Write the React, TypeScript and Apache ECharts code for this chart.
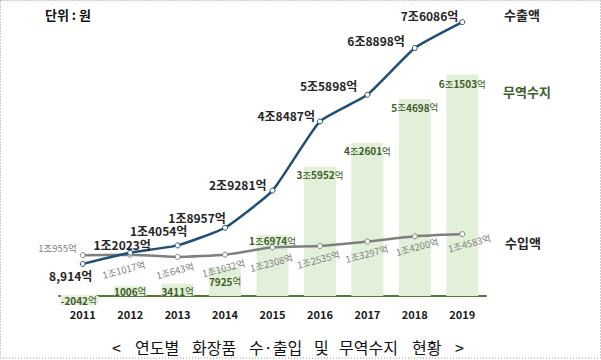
import React, { useEffect, useRef } from "react";
import * as echarts from "echarts";

// values in 억원
const years = ["2011", "2012", "2013", "2014", "2015", "2016", "2017", "2018", "2019"];
const exportValues = [8914, 12023, 14054, 18957, 29281, 48487, 55898, 68898, 76086];
const importValues = [10955, 11017, 10643, 11032, 12308, 12535, 13297, 14200, 14583];
const balanceValues = [-2042, 1006, 3411, 7925, 16974, 35952, 42601, 54698, 61503];

const captionWords = ["<", "연도별", "화장품", "수·출입", "및", "무역수지", "현황", ">"];
const captionX = [112, 135, 192, 249, 314, 339, 412, 455];

const FONT = "'Noto Sans CJK KR', 'Noto Sans', sans-serif";

function fmt(v: number, comma = false): string {
  if (Math.abs(v) >= 10000) {
    return `${Math.floor(v / 10000)}조${v % 10000}억`;
  }
  return comma ? `${v.toLocaleString("en-US")}억` : `${v}억`;
}

function fmtRich(v: number): string {
  if (Math.abs(v) >= 10000) {
    return `{b|${Math.floor(v / 10000)}}{n|조}{b|${v % 10000}}{n|억}`;
  }
  return `{b|${v}}{n|억}`;
}

// label layout (positions only)
const exportLabelLayout: any[] = [
  { position: "bottom", offset: [-12, 0], distance: 3 },
  { position: "top", offset: [-8, 1], distance: 0 },
  { position: "top", offset: [-19, -2], distance: 4 },
  { position: "top", offset: [-28, 0], distance: 1 },
  { position: "left", offset: [0, -6], distance: 3 },
  { position: "left", offset: [0, -6], distance: 2 },
  { position: "left", offset: [0, -9], distance: 7 },
  { position: "left", offset: [0, -7], distance: 7 },
  { position: "left", offset: [0, -7], distance: 1 },
];

const importLabelLayout: any[] = [
  { position: "left", offset: [0, -7], distance: 3, rotate: 0 },
  { position: "bottom", offset: [-8, 0], distance: 5, rotate: 15 },
  { position: "bottom", offset: [-4, 0], distance: 5, rotate: 15 },
  { position: "bottom", offset: [-3, 0], distance: 5, rotate: 15 },
  { position: "bottom", offset: [-3, 2], distance: 5, rotate: 15 },
  { position: "bottom", offset: [-3, 0], distance: 5, rotate: 15 },
  { position: "bottom", offset: [-2, 0], distance: 4, rotate: 15 },
  { position: "bottom", offset: [1, 0], distance: 3, rotate: 15 },
  { position: "bottom", offset: [6, 0], distance: 3, rotate: 15 },
];

const BAR_COLOR = "#e2efd9";

const balanceLabelLayout: any[] = [
  { position: "insideTop", offset: [-4, -1], distance: 0, backgroundColor: BAR_COLOR },
  { position: "insideBottom", offset: [0, 0], distance: 0, backgroundColor: BAR_COLOR },
  { position: "insideBottom", offset: [0, 0], distance: 0, backgroundColor: BAR_COLOR },
  { position: "insideTop", offset: [0, 0], distance: 9 },
  { position: "insideTop", offset: [0, -2], distance: 3 },
  { position: "insideTop", offset: [0, 0], distance: 3 },
  { position: "insideTop", offset: [0, 0], distance: 3 },
  { position: "insideTop", offset: [0, 0], distance: 3 },
  { position: "insideTop", offset: [0, 0], distance: 4 },
];

export default function App() {
  const ref = useRef<HTMLDivElement>(null);

  useEffect(() => {
    if (!ref.current) return;
    const chart = echarts.init(ref.current, undefined, { renderer: "svg" });

    const option: any = {
      animation: false,
      backgroundColor: "#ffffff",
      textStyle: { fontFamily: FONT },
      grid: { left: 59, right: 115, top: 8, bottom: 46, containLabel: false },
      xAxis: {
        type: "category",
        data: years,
        boundaryGap: true,
        axisLine: { show: true, onZero: true, lineStyle: { color: "#4f7a2f", width: 2 } },
        axisTick: { show: false },
        axisLabel: {
          margin: -6,
          color: "#1a1a1a",
          fontWeight: "bold",
          fontSize: 11,
          fontFamily: FONT,
        },
        splitLine: { show: false },
      },
      yAxis: [
        { type: "value", min: -5000, max: 80000, show: false, splitLine: { show: false } },
        { type: "value", min: 800, max: 53600, show: false, splitLine: { show: false } },
      ],
      series: [
        {
          name: "무역수지",
          type: "bar",
          yAxisIndex: 0,
          barWidth: 32,
          itemStyle: { color: BAR_COLOR },
          z: 1,
          data: balanceValues.map((v, i) => ({
            value: v,
            label: {
              show: true,
              ...balanceLabelLayout[i],
              formatter: fmtRich(v),
              rich: {
                b: { fontSize: 10, fontWeight: "bold", color: "#3d5c2a", fontFamily: FONT },
                n: { fontSize: 9.5, fontWeight: "normal", color: "#3d5c2a", fontFamily: FONT },
              },
            },
          })),
        },
        {
          name: "수입액",
          type: "line",
          yAxisIndex: 1,
          smooth: 0.15,
          symbol: "circle",
          symbolSize: 5,
          itemStyle: { color: "#ffffff", borderColor: "#7f7f7f", borderWidth: 1 },
          lineStyle: { color: "#7f7f7f", width: 2.5 },
          z: 3,
          data: importValues.map((v, i) => ({
            value: v,
            label: {
              show: true,
              ...importLabelLayout[i],
              formatter: fmt(v),
              color: "#808080",
              fontSize: 9.5,
              fontFamily: FONT,
            },
          })),
        },
        {
          name: "수출액",
          type: "line",
          yAxisIndex: 0,
          smooth: 0.15,
          symbol: "circle",
          symbolSize: 5,
          itemStyle: { color: "#ffffff", borderColor: "#1f4e79", borderWidth: 1 },
          lineStyle: { color: "#1f4e79", width: 2.5 },
          z: 4,
          data: exportValues.map((v, i) => ({
            value: v,
            label: {
              show: true,
              ...exportLabelLayout[i],
              formatter: fmt(v, true),
              color: "#262626",
              fontSize: 12,
              fontWeight: "bold",
              fontFamily: FONT,
            },
          })),
        },
      ],
      graphic: [
        {
          type: "rect",
          shape: { x: 0.5, y: 0.5, width: 600, height: 357.5 },
          style: { fill: "none", stroke: "#9a9a9a", lineWidth: 1, lineDash: [1, 2] },
          silent: true,
        },
        {
          type: "text",
          left: 45,
          top: 8,
          style: { text: "단위 : 원", fontSize: 13, fontWeight: "bold", fill: "#111", fontFamily: FONT },
        },
        {
          type: "text",
          left: 504,
          top: 8,
          style: { text: "수출액", fontSize: 13, fontWeight: "bold", fill: "#262626", fontFamily: FONT },
        },
        {
          type: "text",
          left: 503,
          top: 85,
          style: { text: "무역수지", fontSize: 13, fontWeight: "bold", fill: "#3b5e2b", fontFamily: FONT },
        },
        {
          type: "text",
          left: 505,
          top: 236,
          style: { text: "수입액", fontSize: 13, fontWeight: "bold", fill: "#262626", fontFamily: FONT },
        },
        ...captionWords.map((w, i) => ({
          type: "text",
          x: captionX[i],
          y: 347,
          style: {
            text: w,
            fontSize: 16,
            fill: "#111",
            fontFamily: FONT,
            verticalAlign: "middle",
          },
        })),
      ],
    };

    chart.setOption(option);
    return () => chart.dispose();
  }, []);

  return (
    <div
      ref={ref}
      style={{ position: "absolute", left: 0, top: 0, width: 601, height: 360, background: "#fff" }}
    />
  );
}
